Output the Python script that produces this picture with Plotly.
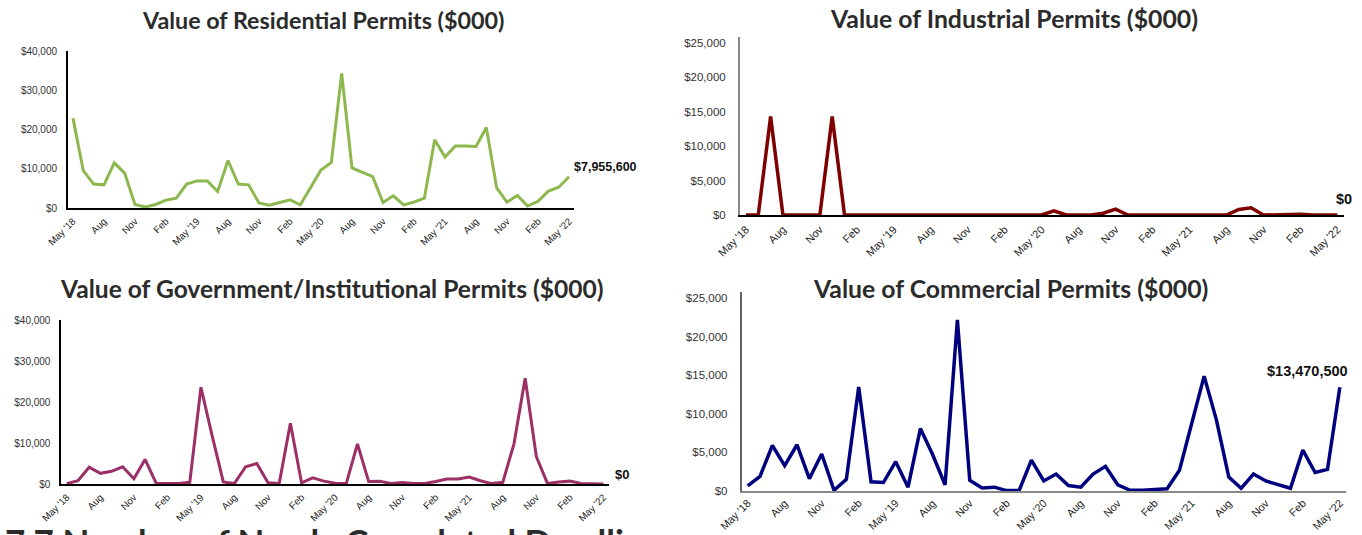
import plotly.graph_objects as go

W, H = 1362, 535

month_ticks = ["May '18", "Aug", "Nov", "Feb", "May '19", "Aug", "Nov", "Feb",
               "May '20", "Aug", "Nov", "Feb", "May '21", "Aug", "Nov", "Feb", "May '22"]

residential = [22900, 9500, 6100, 5900, 11500, 8900, 900, 250, 900, 2000,
               2500, 6100, 6900, 6900, 4200, 12100, 6100, 5900, 1300, 700,
               1400, 2100, 800, 5100, 9700, 11600, 34300, 10200, 9100, 8000,
               1400, 3100, 800, 1500, 2500, 17400, 13000, 15800, 15800, 15700,
               20500, 5100, 1500, 3200, 500, 1700, 4300, 5300, 7955.6]

industrial = [0, 0, 14300, 0, 0, 0, 0, 14300, 0, 0,
              0, 80, 0, 0, 0, 0, 0, 0, 60, 0,
              0, 0, 70, 0, 0, 600, 0, 0, 0, 250,
              850, 0, 0, 0, 0, 0, 0, 0, 0, 0,
              800, 1050, 0, 50, 0, 100, 0, 0, 0]

government = [100, 800, 4100, 2600, 3100, 4200, 1300, 6000, 150, 100,
              100, 400, 23600, 11800, 500, 150, 4200, 5000, 300, 100,
              14800, 300, 1500, 700, 200, 100, 9800, 600, 650, 150,
              350, 100, 150, 600, 1200, 1200, 1700, 800, 100, 400,
              9800, 25800, 6700, 100, 500, 700, 150, 50, 0]

commercial = [650, 1900, 5900, 3300, 6000, 1600, 4800, 100, 1500, 13500,
              1200, 1100, 3800, 500, 8100, 4700, 800, 22200, 1400, 400,
              500, 50, 50, 4000, 1300, 2200, 700, 500, 2200, 3200,
              800, 100, 100, 250, 300, 2700, 8800, 14900, 9200, 1800,
              350, 2200, 1300, 850, 350, 5300, 2400, 2800, 13470.5]

titles = ["Value of Residential Permits ($000)",
          "Value of Industrial Permits ($000)",
          "Value of Government/Institutional Permits ($000)",
          "Value of Commercial Permits ($000)"]

colors = ["#8DB84E", "#7F0000", "#9B2F66", "#00007F"]

def px(x):
    return x / W

def py(y):
    return 1 - y / H

panels = [
    dict(data=residential, x=(67.8, 574.2), y=(51, 208), ymax=40000, dtick=10000,
         yfs=10, xfs=9.8, ycol="#000000", xcol="#000000", lw=3,
         title_c=(322.5, 20), title_fs=23.3, lab_fs=12.5, lab_shift=(3, 10), lab_anchor="left",
         ystand=7, xstand=2),
    dict(data=industrial, x=(739.8, 1343.5), y=(36.7, 215), ymax=25870, dtick=5000,
         yfs=11.5, xfs=11, ycol="#888888", xcol="#000000", lw=3.5,
         title_c=(1013.7, 18.5), title_fs=24.8, lab_fs=14.5, lab_shift=(-3, 16), lab_anchor="left",
         ystand=10, xstand=2),
    dict(data=government, x=(61.2, 609), y=(320, 484), ymax=40000, dtick=10000,
         yfs=10, xfs=9.8, ycol="#000000", xcol="#000000", lw=3,
         title_c=(331.5, 288), title_fs=24.6, lab_fs=13, lab_shift=(10, 10), lab_anchor="left",
         ystand=7, xstand=2),
    dict(data=commercial, x=(741.5, 1346), y=(291.7, 491), ymax=25856, dtick=5000,
         yfs=11.5, xfs=10.8, ycol="#666666", xcol="#888888", lw=3.5,
         title_c=(1010.7, 288), title_fs=24.8, lab_fs=14.5, lab_shift=(10, 16), lab_anchor="right",
         ystand=10, xstand=0),
]

fig = go.Figure()
annotations = []
layout = {}
n = len(residential)
xs = list(range(n))
tickvals = xs[::3]

for i, p in enumerate(panels):
    k = "" if i == 0 else str(i + 1)
    xa, ya = "x" + k, "y" + k
    fig.add_trace(go.Scatter(x=xs, y=p["data"], mode="lines", xaxis=xa, yaxis=ya,
                             line=dict(color=colors[i], width=p["lw"]),
                             hoverinfo="skip", showlegend=False, cliponaxis=False))
    yt = list(range(0, 40001 if p["ymax"] > 30000 else 25001, p["dtick"]))
    layout["xaxis" + k] = dict(
        domain=[px(p["x"][0]), px(p["x"][1])], anchor=ya, range=[-0.5, n - 0.5],
        tickmode="array", tickvals=tickvals, ticktext=month_ticks, tickangle=-45,
        tickfont=dict(family="Liberation Sans, Arial", size=p["xfs"], color="#222"),
        showgrid=False, zeroline=False, showline=True, linecolor=p["xcol"], linewidth=1.5,
        ticks="", ticklabelstandoff=p["xstand"], fixedrange=True, automargin=False)
    layout["yaxis" + k] = dict(
        domain=[py(p["y"][1]), py(p["y"][0])], anchor=xa, range=[0, p["ymax"]],
        tickmode="array", tickvals=yt, ticktext=["${:,}".format(v) for v in yt],
        tickfont=dict(family="Liberation Sans, Arial", size=p["yfs"], color="#333"),
        showgrid=False, zeroline=False, showline=True, linecolor=p["ycol"], linewidth=1.5,
        ticks="", ticklabelstandoff=p["ystand"], fixedrange=True, automargin=False)
    annotations.append(dict(
        text="<b>" + titles[i] + "</b>", xref="paper", yref="paper",
        x=px(p["title_c"][0]), y=py(p["title_c"][1]), xanchor="center", yanchor="middle",
        showarrow=False, font=dict(family="Lato, Open Sans", size=p["title_fs"], color="#2b2b2b")))
    last = p["data"][-1]
    annotations.append(dict(
        text="<b>${:,.0f}</b>".format(last * 1000), xref=xa, yref=ya,
        x=xs[-1], y=last, xanchor=p["lab_anchor"], yanchor="middle",
        xshift=p["lab_shift"][0], yshift=p["lab_shift"][1], showarrow=False,
        font=dict(family="Liberation Sans, Arial", size=p["lab_fs"], color="#111")))

annotations.append(dict(
    text="<b>7.7 Number of Newly Completed Dwellings</b>", xref="paper", yref="paper",
    x=px(3), y=py(518), xanchor="left", yanchor="top", showarrow=False,
    font=dict(family="Lato, Open Sans", size=35, color="#2b2b2b")))

fig.update_layout(width=W, height=H, margin=dict(l=0, r=0, t=0, b=0, autoexpand=False),
                  paper_bgcolor="white", plot_bgcolor="white",
                  annotations=annotations, **layout)

fig.write_html("out.html", config={"displayModeBar": False},
               post_script="document.body.style.margin='0';document.body.style.overflow='hidden';")
